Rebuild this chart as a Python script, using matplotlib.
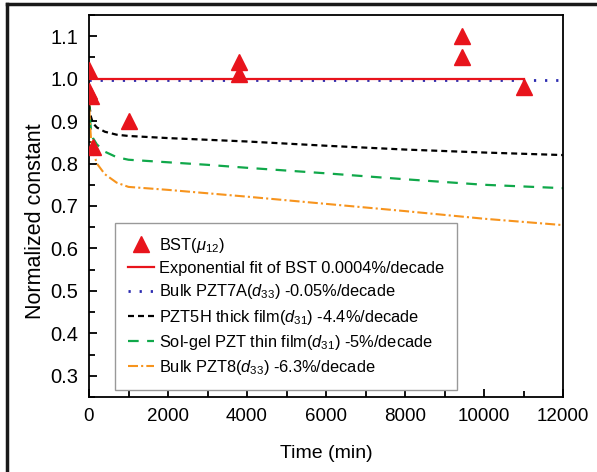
import numpy as np
import matplotlib
matplotlib.use('Agg')
import matplotlib.pyplot as plt
from matplotlib.lines import Line2D
from matplotlib.ticker import MultipleLocator, FormatStrFormatter

plt.rcParams['font.family'] = ['Liberation Sans', 'DejaVu Sans']
plt.rcParams['mathtext.fontset'] = 'custom'
plt.rcParams['mathtext.rm'] = 'Liberation Sans'
plt.rcParams['mathtext.it'] = 'Liberation Sans:italic'

# BST measured points
bst_t = [0, 0, 50, 100, 1000, 3800, 3800, 9450, 9450, 11000]
bst_v = [1.02, 0.97, 0.96, 0.84, 0.90, 1.04, 1.01, 1.10, 1.05, 0.98]

# exponential fit of BST
fit_t = [0, 11000]
fit_v = [1.0, 1.0]

# bulk PZT7A
p7a_t = [0, 12000]
p7a_v = [0.997, 0.997]

t_curve = [0, 20, 50, 100, 200, 400, 700, 1000, 2000, 3000, 4000, 6000, 8000, 10000, 12000]
p5h_v = [0.96, 0.93, 0.91, 0.895, 0.885, 0.875, 0.868, 0.865, 0.86, 0.856, 0.852, 0.842, 0.833, 0.826, 0.82]
solgel_v = [0.95, 0.91, 0.88, 0.86, 0.845, 0.828, 0.815, 0.809, 0.803, 0.797, 0.79, 0.777, 0.763, 0.75, 0.742]
p8_v = [0.97, 0.90, 0.86, 0.83, 0.80, 0.775, 0.755, 0.745, 0.738, 0.73, 0.722, 0.705, 0.688, 0.67, 0.655]

fig = plt.figure(figsize=(5.97, 4.72), dpi=100)
ax = fig.add_axes([89/597, 1-397/472, (563-89)/597, (397-15)/472])

ax.plot(bst_t, bst_v, '^', color='#e8141c', ms=11, ls='none', label=r'BST($\mu_{12}$)', zorder=5)
ax.plot(fit_t, fit_v, '-', color='#e8141c', lw=1.6, label='Exponential fit of BST 0.0004%/decade', zorder=4)
ax.plot(p7a_t, p7a_v, color='#2a2ab0', lw=2, dashes=(0.8, 3.2), label=r'Bulk PZT7A($d_{33}$) -0.05%/decade')
ax.plot(t_curve, p5h_v, color='black', lw=1.6, dashes=(2.7, 1.8), label=r'PZT5H thick film($d_{31}$) -4.4%/decade')
ax.plot(t_curve, solgel_v, color='#10a84a', lw=1.6, dashes=(4.8, 3.8), label=r'Sol-gel PZT thin film($d_{31}$) -5%/decade')
ax.plot(t_curve, p8_v, color='#f7941d', lw=1.5, dashes=(4.8, 1.5, 1, 1.5), label=r'Bulk PZT8($d_{33}$) -6.3%/decade')

ax.set_xlim(0, 12000)
ax.set_ylim(0.25, 1.15)
ax.xaxis.set_major_locator(MultipleLocator(2000))
ax.xaxis.set_minor_locator(MultipleLocator(1000))
ax.yaxis.set_major_locator(MultipleLocator(0.1))
ax.yaxis.set_minor_locator(MultipleLocator(0.05))
ax.yaxis.set_major_formatter(FormatStrFormatter('%.1f'))
ax.tick_params(which='both', direction='in', labelsize=13.5, width=1.3)
ax.tick_params(which='major', length=6)
ax.tick_params(which='minor', length=4)
ax.tick_params(axis='x', pad=8)
ax.tick_params(axis='y', labelsize=14.5, pad=8)
for s in ax.spines.values():
    s.set_linewidth(1.3)

ax.set_xlabel('Time (min)', fontsize=14, labelpad=14)
ax.set_ylabel('Normalized constant', fontsize=15.5)
ax.yaxis.set_label_coords(-0.09, 0.46)

leg = ax.legend(loc='lower left', bbox_to_anchor=(0.055, 0.018), borderaxespad=0, fontsize=11.8,
                fancybox=False, edgecolor='#999999', framealpha=1,
                handlelength=1.6, labelspacing=0.38, borderpad=0.8, handletextpad=0.25)
leg.get_frame().set_linewidth(1.0)

# outer frame lines
fig.add_artist(Line2D([7/597, 7/597], [0, 1-4/472], color='#1a1a1a', lw=2.5))
fig.add_artist(Line2D([7/597, 1], [1-4/472, 1-4/472], color='#1a1a1a', lw=2.5))

fig.savefig('out.png', dpi=100)
